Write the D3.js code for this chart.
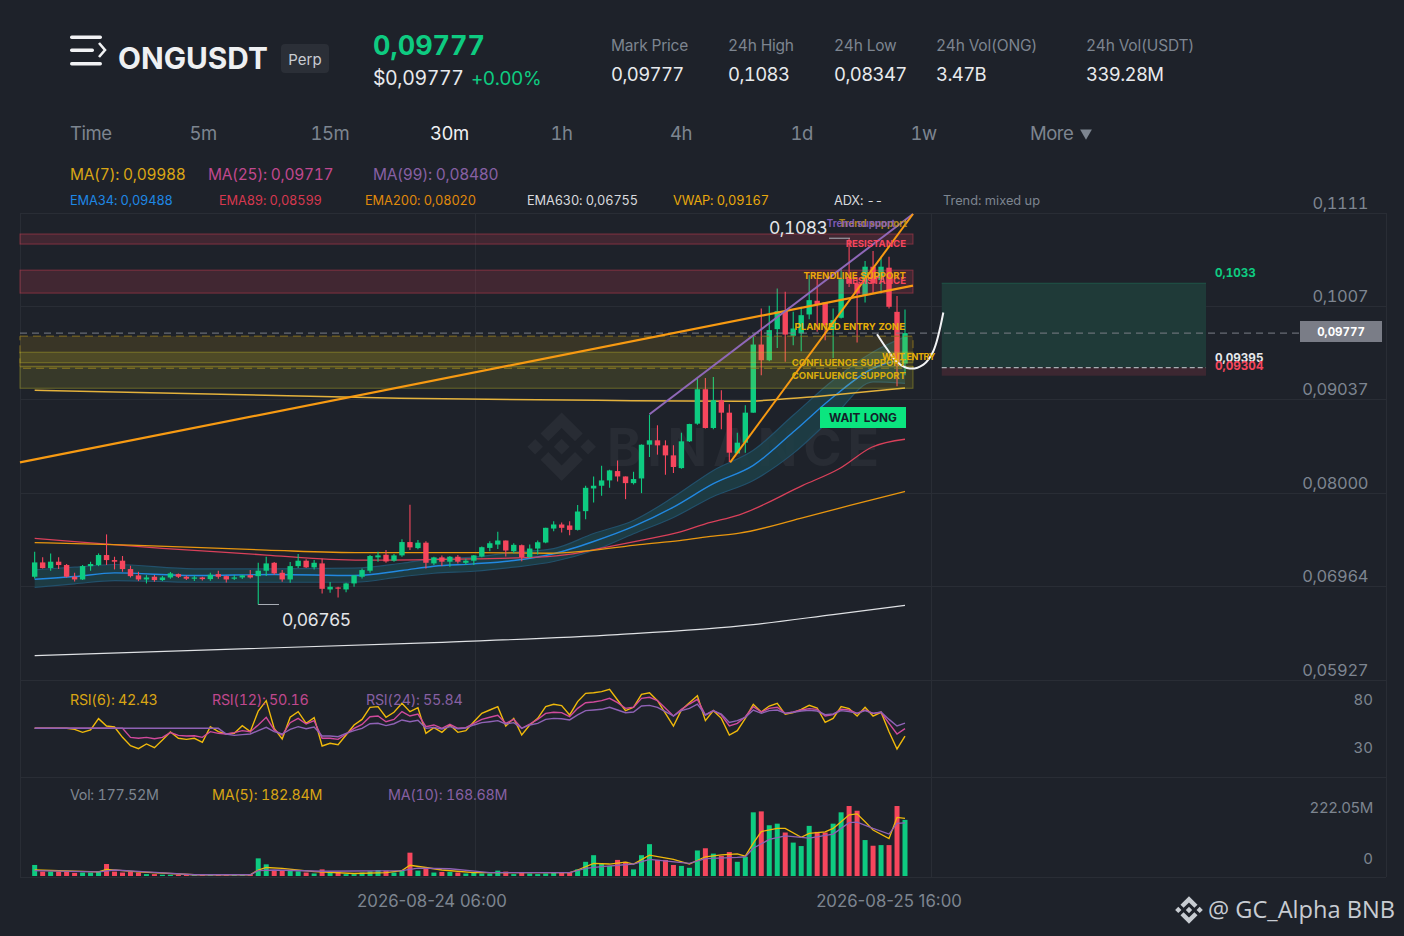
<!DOCTYPE html>
<html><head><meta charset="utf-8">
<script src="https://cdn.jsdelivr.net/npm/d3@7"></script>
<style>
html,body{margin:0;padding:0;background:#1e222a;overflow:hidden}
svg{display:block}
text{font-family:Inter,"Noto Sans",sans-serif;font-variant-numeric:tabular-nums;font-feature-settings:"tnum" 1}
</style></head><body>
<svg id="c" width="1404" height="936"></svg>
<script>
// Prices are in ticks of 0.00001
const opens=[7073,7232,7169,7240,7203,7073,7043,7191,7203,7314,
7258,7251,7158,7088,7043,7073,7036,7065,7102,7073,
7051,7065,7047,7102,7080,7051,7065,7091,7080,7140,
7228,7117,7043,7191,7251,7177,7221,6932,6954,6932,
6999,7073,7140,7288,7317,7251,7310,7458,7391,7451,
7221,7288,7240,7295,7228,7251,7297,7393,7430,7475,
7356,7423,7290,7386,7453,7608,7653,7642,7593,7801,
8053,8083,8142,8246,8186,8112,8164,8539,8587,8531,
8420,8279,8576,8772,9154,8724,9032,8894,8442,8561,
8894,9650,9476,9821,10021,9747,9773,9984,10136,10117,
9821,9947,10376,10328,10199,10514,10366,10503,10013,9439];
const closes=[7232,7169,7240,7203,7073,7043,7191,7214,7314,7258,
7240,7158,7080,7043,7065,7036,7065,7110,7073,7051,
7065,7047,7095,7073,7043,7065,7088,7065,7140,7221,
7110,7043,7191,7251,7177,7228,6939,6962,6947,6999,
7088,7147,7303,7310,7243,7310,7458,7399,7451,7228,
7288,7240,7295,7240,7251,7310,7401,7445,7475,7364,
7427,7290,7386,7456,7616,7653,7616,7593,7797,8060,
8083,8142,8253,8186,8112,8157,8538,8587,8531,8420,
8291,8576,8768,9154,8724,9032,8894,8450,8561,8894,
9650,9476,9810,10021,9761,9828,9976,10143,10099,9865,
9921,10376,10330,10217,10514,10328,10514,10069,9439,9777];
const highs=[7351,7288,7332,7288,7214,7117,7203,7240,7332,7543,
7295,7303,7195,7128,7091,7091,7080,7125,7110,7088,
7088,7073,7117,7140,7088,7091,7091,7147,7228,7295,
7236,7147,7236,7325,7266,7258,7273,7014,6962,7006,
7091,7165,7314,7351,7369,7325,7488,7873,7480,7466,
7295,7310,7303,7314,7273,7314,7408,7467,7571,7475,
7445,7430,7430,7475,7616,7690,7675,7690,7868,8083,
8186,8305,8260,8364,8186,8238,8542,8872,8754,8587,
8531,8672,8772,9272,9280,9291,9143,8987,8672,8976,
9735,10050,10080,10273,10236,10013,10069,10421,10384,10117,
10050,10495,10830,10384,10577,10688,10625,10625,10190,10039];
const lows=[7054,7165,7140,7158,7065,7021,7036,7140,7191,7203,
7154,7128,7065,7025,6999,7017,7025,7051,7058,7036,
7025,7032,7028,7051,7010,7036,7047,7054,6765,7080,
7095,7017,7006,7169,7169,7154,6888,6895,6843,6902,
6962,7054,7117,7240,7228,7240,7295,7369,7377,7165,
7203,7191,7184,7221,7203,7203,7290,7356,7382,7297,
7334,7245,7282,7319,7445,7579,7564,7534,7586,7712,
7897,7971,8060,8131,7934,8097,8001,8402,8428,8205,
8224,8272,8568,8761,8717,8709,8709,8346,8439,8450,
8894,9309,9465,9613,9458,9643,9576,9932,9791,9698,
9502,9939,10290,9673,10117,10217,10217,10051,9187,9309];
const volumes=[35,14,14,14,14,10,11,11,14,38,14,11,13,11,6,6,4,4,4,4,3,4,4,4,4,4,4,6,56,37,
17,17,17,15,11,8,21,13,13,6,6,11,15,19,17,11,19,74,17,23,11,13,13,11,8,11,
8,8,17,14,6,11,8,6,8,11,11,11,21,45,66,38,32,51,45,21,66,101,51,51,35,32,26,81,88,71,64,76,45,61,
202,205,161,166,138,106,95,159,140,138,166,202,222,207,114,96,98,98,222,178];
const rsi6=[50.5,50.5,50.5,50.5,50.5,49.4,46.3,48.8,60.6,52.9,51.9,41.1,32.4,29.3,34.2,30.3,38.3,46.7,40.1,39.0,40.1,35.9,52.2,47.0,44.6,45.3,53.3,47.0,68.5,79.3,50.5,39.4,62.0,67.9,55.7,61.6,32.1,34.9,33.5,43.5,54.0,59.8,72.4,73.1,62.0,67.2,76.5,67.9,72.0,45.3,51.2,46.3,54.0,46.3,48.1,57.4,
66.1,69.6,73.1,52.9,60.9,43.5,54.0,60.9,73.1,75.5,74.1,64.4,78.3,86.9,87.6,88.7,91.1,80.0,68.9,72.4,85.9,87.6,79.3,66.1,52.9,69.6,77.2,84.5,58.5,68.9,60.9,43.5,48.1,60.9,75.5,67.5,73.7,76.5,65.1,66.8,70.3,74.4,71.7,56.7,60.9,73.1,71.0,63.3,72.4,63.3,67.2,47.0,29.0,42.43];
const rsi12=[50.5,50.5,50.5,50.5,50.5,50.5,50.5,50.5,50.5,50.5,50.5,50.5,41.1,40.1,41.1,39.7,41.1,46.0,43.2,42.5,42.8,41.1,47.0,45.3,44.6,46.0,48.1,47.0,54.0,62.0,48.8,43.5,56.4,60.9,55.0,58.5,40.1,40.1,39.0,44.6,50.5,54.6,62.6,63.3,57.4,59.8,67.9,63.3,65.4,52.2,54.0,50.5,54.6,50.5,51.2,55.7,
59.8,62.0,64.0,55.7,59.8,50.5,55.0,59.8,66.1,67.2,66.8,62.6,71.3,77.2,77.9,79.3,81.7,77.2,71.3,72.4,81.7,82.8,79.3,71.3,63.3,70.3,75.8,80.7,64.4,68.9,64.4,52.9,55.7,62.6,73.1,67.5,71.3,72.4,66.1,67.5,69.6,71.0,70.3,63.3,64.7,70.3,69.6,66.1,69.6,66.1,67.2,55.7,44.6,50.16];
const rsi24=[50.5,50.5,50.5,50.5,50.5,50.5,50.5,50.5,50.5,50.5,50.5,50.5,50.5,50.5,50.5,50.5,50.5,50.5,50.5,50.5,50.5,50.5,50.5,50.5,44.6,43.2,43.9,44.6,48.1,51.5,47.0,44.6,49.4,52.2,50.1,51.9,42.5,42.5,41.8,45.3,48.1,50.5,55.3,55.7,53.3,55.3,59.2,57.4,58.8,50.5,51.5,49.8,52.2,50.1,50.8,54.0,
56.4,57.4,58.5,55.0,56.4,50.5,54.0,55.7,59.8,60.9,60.5,59.2,64.4,68.9,69.6,70.3,72.4,69.6,66.8,67.5,73.7,74.4,72.4,67.9,63.3,68.9,71.3,75.8,64.4,68.9,65.4,56.7,58.5,62.0,69.6,66.1,68.9,69.6,66.1,67.2,68.5,69.2,68.5,64.7,65.4,68.9,67.9,66.1,68.9,66.1,67.5,59.8,52.9,55.84];
const volMa5=[[0,19],[8,13],[9,21],[13,13],[20,4],[27,4],[28,19],[29,27],[31,24],[35,14],[40,8],[44,11],[46,17],[47,34],[49,27],[51,19],[55,11],[64,11],[67,11],[68,19],[70,40],[72,38],[74,44],[75,38],[77,66],[80,53],[82,38],[84,61],[86,67],[88,70],[89,63],[90,104],[91,141],[93,151],[94,151],[96,123],[97,135],[99,140],[100,151],[101,172],[102,194],[103,197],[104,172],[105,146],[107,119],[108,186],[109,182.84]];
const volMa10=[[0,17],[8,13],[10,19],[14,13],[20,4],[27,4],[28,17],[30,19],[36,15],[46,17],[48,25],[52,23],[57,11],[67,11],[69,24],[71,30],[75,38],[77,53],[82,40],[84,55],[88,59],[89,61],[90,88],[92,116],[94,127],[97,120],[100,133],[102,169],[103,171],[105,151],[107,133],[108,167],[109,168.68]];
const bandIdx=[0,5,10,20,30,40,46,50,55,60,65,70,75,80,85,90,95,100,105,109];
const ema34Upper=[7150,7179,7209,7161,7161,7168,7223,7272,7290,7345,7386,7553,7698,7957,8253,8476,8865,9254,9568,9735];
const ema34=[7045,7075,7116,7086,7098,7086,7142,7190,7216,7253,7328,7464,7631,7846,8106,8309,8679,9068,9387,9488];
const ema34Lower=[6956,6994,7031,7012,7012,7012,7075,7112,7134,7179,7242,7364,7550,7731,7964,8142,8442,8846,9235,9220];
const ema89=[[0,7499],[5,7462],[16,7388],[29,7314],[37,7266],[41,7258],[55,7272],[63,7290],[67.4,7327],[71.6,7401],[75.75,7475],[80.75,7567],[84,7660],[88.25,7760],[96.2,8087],[100.75,8272],[104.9,8513],[109,8599]];
const ema200=[[0,7451],[12,7425],[29,7369],[41,7340],[55,7340],[64.5,7334],[68.7,7356],[75.75,7430],[80.75,7475],[85,7523],[88.25,7556],[95.9,7720],[102.1,7864],[109,8020]];
const ema630=[[0,6197],[50,6342],[73,6431],[90,6542],[100,6653],[109,6755]];
const vwap=[[0,9143],[45.7,9054],[70.4,9031],[88.3,9020],[94.6,9050],[100.9,9098],[109,9167]];
const trendLong=[[-1.84,8342],[110,10304]];
const trendPurple=[[77,8876],[110,11099]];
const trendSteep=[[87.1,8342],[110,11099]];
const whiteCurve=[[105.5,9765],[106.7,9606],[108,9457],[109.6,9384],[111.3,9428],[112.5,9568],[113.8,10006]];
const zones=[[10877,10765,"r"],[10476,10221,"r"],[9743,9387,"p"],[9565,9448,"y"],[9409,9165,"y"]];
const priceTicks=[11110,10070,9037,8000,6964,5927];
const priceTickLabels=["0,1111","0,1007","0,09037","0,08000","0,06964","0,05927"];
const rsiTicks=[80,30];
const volTickLabels=["222.05M","0"];
const lastPrice=9777,entry=9395,stop=9304,target=10330,posStart=113.6,posEnd=146.7;
const stats=[["Mark Price","0,09777",611],["24h High","0,1083",728],["24h Low","0,08347",834],["24h Vol(ONG)","3.47B",936],["24h Vol(USDT)","339.28M",1086]];
const frames=[["Time",70],["5m",189.5],["15m",310.5],["30m",430],["1h",550.5],["4h",670],["1d",790.5],["1w",910.5],["More",1030]];
const logoPath="M38.73 53.2 63 28.94l24.28 24.28 14.12-14.12L63 .7 24.6 39.1zM.7 63l14.12-14.12L28.94 63 14.82 77.12zM38.73 72.8 63 97.06 87.28 72.78l14.13 14.11L63 125.3 24.6 86.9zM97.06 63l14.12-14.12L125.3 63l-14.12 14.12zM77.32 63 63 48.68 52.42 59.26l-1.22 1.21-2.5 2.5L63 77.32z";

const C={bg:"#1e222a",grid:"#292d35",g:"#0ecb81",r:"#f6465d",y:"#d9a514",pk:"#c0488e",pu:"#8760a3",mut:"#7d8590",txt:"#e3e5e8"};
const svg=d3.select("#c");
svg.append("rect").attr("width",1404).attr("height",936).attr("fill",C.bg);
const x=d3.scaleLinear().domain([0,109]).range([34.67,905]);
const y=d3.scaleLinear().domain([11110,5927]).range([213,680]);
const yRsi=d3.scaleLinear().domain([80,30]).range([700,748]);
const yVol=d3.scaleLinear().domain([0,222.05]).range([876,806]);

function T(s,px,py,size,fill,o={}){const t=svg.append("text").attr("x",px).attr("y",py).attr("dy","0.36em").attr("font-size",size).attr("fill",fill).text(s);
 if(o.w)t.attr("font-weight",o.w);if(o.a)t.attr("text-anchor",o.a);if(o.f)t.style("font-family",o.f);if(o.ls)t.attr("letter-spacing",o.ls);if(o.prop)t.style("font-variant-numeric","normal").style("font-feature-settings","normal");return t;}

// grid
const grid=svg.append("g").attr("stroke",C.grid).attr("stroke-width",1).attr("shape-rendering","crispEdges");
priceTicks.forEach(v=>grid.append("line").attr("x1",20).attr("x2",1386).attr("y1",y(v)).attr("y2",y(v)));
[777,877].forEach(v=>grid.append("line").attr("x1",20).attr("x2",1386).attr("y1",v).attr("y2",v));
[20,475,931,1386].forEach(v=>grid.append("line").attr("x1",v).attr("x2",v).attr("y1",213).attr("y2",877));

// watermark
svg.append("path").attr("d",logoPath).attr("fill","#282c34").attr("transform","translate(527,412) scale(.55)");
svg.append("text").attr("x",607).attr("y",466).attr("font-size",52).attr("font-weight",700).attr("fill","#282c34").attr("textLength",272).attr("lengthAdjust","spacing").text("BINANCE");

// EMA34 band
const idx=d3.range(bandIdx.length);
svg.append("path").attr("d",d3.area().x(i=>x(bandIdx[i])).y0(i=>y(ema34Lower[i])).y1(i=>y(ema34Upper[i])).curve(d3.curveMonotoneX)(idx)).attr("fill","#1d4048").attr("fill-opacity",.85);
[ema34Upper,ema34Lower].forEach(a=>svg.append("path").attr("d",d3.line().x(i=>x(bandIdx[i])).y(i=>y(a[i])).curve(d3.curveMonotoneX)(idx)).attr("fill","none").attr("stroke","#22506b").attr("stroke-width",1.2));
svg.append("path").attr("d",d3.line().x(i=>x(bandIdx[i])).y(i=>y(ema34[i])).curve(d3.curveMonotoneX)(idx)).attr("fill","none").attr("stroke","#2288e0").attr("stroke-width",1.4);
[[ema89,"#d9405a",1.3],[ema200,"#e8960f",1.3],[ema630,"#dfe1e4",1.2],[vwap,"#e4b23c",1.5]].forEach(([a,c,w])=>
 svg.append("path").attr("d",d3.line().x(d=>x(d[0])).y(d=>y(d[1])).curve(d3.curveMonotoneX)(a)).attr("fill","none").attr("stroke",c).attr("stroke-width",w));

// candles
const cg=svg.append("g");
d3.range(opens.length).forEach(i=>{
 const up=closes[i]>=opens[i],col=up?C.g:C.r,px=x(i);
 cg.append("line").attr("x1",px).attr("x2",px).attr("y1",y(highs[i])).attr("y2",y(lows[i])).attr("stroke",col).attr("stroke-width",1.1);
 const t=y(Math.max(opens[i],closes[i])),b=y(Math.min(opens[i],closes[i]));
 cg.append("rect").attr("x",px-2.7).attr("width",5.4).attr("y",t).attr("height",Math.max(b-t,1.2)).attr("fill",col);
});

// zones
zones.forEach(([a,b,k])=>{
 const col=k=="r"?"#f6465d":"#c9c02a",f=k=="r"?.16:.15;
 svg.append("rect").attr("x",x(-1.84)).attr("width",x(110)-x(-1.84)).attr("y",y(a)).attr("height",y(b)-y(a))
  .attr("fill",k=="p"?"#d9a514":col).attr("fill-opacity",f).attr("stroke",k=="p"?"#8e7620":col).attr("stroke-opacity",k=="p"?.9:.4).attr("stroke-dasharray",k=="p"?"8 5":null);
});

// position box
const pos=svg.append("g");
pos.append("rect").attr("x",x(posStart)).attr("width",x(posEnd)-x(posStart)).attr("y",y(target)).attr("height",y(entry)-y(target)).attr("fill","#1f3a38");
pos.append("line").attr("x1",x(posStart)).attr("x2",x(posEnd)).attr("y1",y(target)).attr("y2",y(target)).attr("stroke","#1f5548");
pos.append("rect").attr("x",x(posStart)).attr("width",x(posEnd)-x(posStart)).attr("y",y(entry)).attr("height",y(stop)-y(entry)).attr("fill","#3c2731");
pos.append("line").attr("x1",x(posStart)).attr("x2",x(posEnd)).attr("y1",y(entry)).attr("y2",y(entry)).attr("stroke","#a9aeb4").attr("stroke-dasharray","5 3").attr("stroke-width",1.2);
// last price
svg.append("line").attr("x1",20).attr("x2",1300).attr("y1",y(lastPrice)).attr("y2",y(lastPrice)).attr("stroke","#7b7f87").attr("stroke-dasharray","7 5").attr("stroke-width",1);

// trend lines
const ln=d3.line().x(d=>x(d[0])).y(d=>y(d[1]));
svg.append("path").attr("d",ln(trendLong)).attr("stroke","#f79a12").attr("stroke-width",2.2).attr("fill","none");
svg.append("path").attr("d",ln(trendPurple)).attr("stroke","#8f68b8").attr("stroke-width",2).attr("fill","none");
svg.append("path").attr("d",ln(trendSteep)).attr("stroke","#f79a12").attr("stroke-width",2).attr("fill","none");
svg.append("path").attr("d",d3.line().x(d=>x(d[0])).y(d=>y(d[1])).curve(d3.curveCatmullRom)(whiteCurve)).attr("stroke","#f2f3f5").attr("stroke-width",2).attr("fill","none");

// annotations
const lab={w:700,a:"end"};
T("Trend support",907,223,9.8,"#c79a1a",lab).attr("opacity",.85);
T("Trend support",895,223,9.8,"#8760c0",lab).attr("opacity",.9);
T("RESISTANCE",906,243.5,9.6,"#f6465d",lab);
T("RESISTANCE",906,280.5,9.6,"#f6465d",lab);
T("TRENDLINE SUPPORT",906,276,9.6,"#eda50c",lab);
T("PLANNED ENTRY ZONE",905,327,9.6,"#e7b008",lab);
T("CONFLUENCE SUPPORT",906,362.5,9.6,"#d9ad0c",lab);
T("CONFLUENCE SUPPORT",906,376,9.6,"#d9ad0c",lab);
T("WAIT ENTRY",935,357,9,"#e7b008",{w:700,a:"end",ls:-.4});
svg.append("rect").attr("x",820).attr("y",407).attr("width",86).attr("height",21).attr("fill","#0be57f");
T("WAIT LONG",863,417.5,11.8,"#14202a",{w:700,a:"middle"});
T("0,1083",769,228,17.5,C.txt,{ls:-.5});
svg.append("line").attr("x1",829).attr("x2",850).attr("y1",y(10830)).attr("y2",y(10830)).attr("stroke","#aab0b8");
T("0,06765",282,619.5,17.5,C.txt,{ls:-.6});
svg.append("line").attr("x1",x(28)).attr("x2",279).attr("y1",y(6765)).attr("y2",y(6765)).attr("stroke","#aab0b8");
T("0,1033",1215,273,11.7,C.g,{w:700});
T("0,09395",1215,357.5,11.7,"#e6e8ea",{w:700});
T("0,09304",1215,365.5,11.7,C.r,{w:700});
svg.append("rect").attr("x",1300).attr("y",321).attr("width",82).attr("height",21).attr("fill","#7a7d87");
T("0,09777",1341,331.5,11.5,"#fff",{w:700,a:"middle"});

// price axis
const axP=svg.append("g").attr("transform","translate(1368,0)").call(d3.axisLeft(y).tickValues(priceTicks).tickSize(0).tickPadding(0).tickFormat((d,i)=>priceTickLabels[i]));
axP.select(".domain").remove();
axP.selectAll("text").attr("font-size",16.5).attr("letter-spacing",-.4).attr("fill",C.mut).attr("dy","-0.3em").style("font-family","Inter,sans-serif");
const axR=svg.append("g").attr("transform","translate(1373,0)").call(d3.axisLeft(yRsi).tickValues(rsiTicks).tickSize(0).tickPadding(0));
axR.select(".domain").remove();
axR.selectAll("text").attr("font-size",15).attr("fill",C.mut).style("font-family","Inter,sans-serif");
T(volTickLabels[0],1373,808,15,C.mut,{a:"end",ls:-.4});
T(volTickLabels[1],1373,859,15,C.mut,{a:"end"});
T("2026-08-24 06:00",432,901,16.8,C.mut,{a:"middle",prop:1});
T("2026-08-25 16:00",889,901,16.8,C.mut,{a:"middle",prop:1});

// RSI
[[rsi6,"#f0b90b"],[rsi12,"#d14a9c"],[rsi24,"#8f62b5"]].forEach(([a,c])=>
 svg.append("path").attr("d",d3.line().x((d,i)=>x(i)).y(d=>yRsi(d))(a)).attr("fill","none").attr("stroke",c).attr("stroke-width",1.4));

// Volume
d3.range(volumes.length).forEach(i=>{
 svg.append("rect").attr("x",x(i)-2.5).attr("width",5).attr("y",yVol(volumes[i])).attr("height",876-yVol(volumes[i])).attr("fill",closes[i]>=opens[i]?C.g:C.r);
});
[[volMa5,"#f0b90b"],[volMa10,"#8f62b5"]].forEach(([a,c])=>
 svg.append("path").attr("d",d3.line().x(d=>x(d[0])).y(d=>yVol(d[1]))(a)).attr("fill","none").attr("stroke",c).attr("stroke-width",1.3));

// header
const ic=svg.append("g").attr("fill","#f1f2f4");
ic.append("rect").attr("x",70).attr("y",35.5).attr("width",32).attr("height",3.4).attr("rx",1.7);
ic.append("rect").attr("x",70).attr("y",48.5).attr("width",24).attr("height",3.4).attr("rx",1.7);
ic.append("rect").attr("x",70).attr("y",62).attr("width",32).attr("height",3.4).attr("rx",1.7);
svg.append("path").attr("d","M99 43 L105 50 L99 57").attr("fill","none").attr("stroke","#f1f2f4").attr("stroke-width",2.6);
T("ONGUSDT",118,58.5,29.8,"#eef0f2",{w:700});
svg.append("rect").attr("x",281).attr("y",44).attr("width",48).attr("height",29).attr("rx",4).attr("fill","#2b2f37");
T("Perp",305,60,15,"#c8ccd2",{a:"middle"});
T("0,09777",373,45,27,C.g,{w:700});
T("$0,09777",373,78,19.5,"#e8eaed",{ls:-.4});
T("+0.00%",471,78,19,C.g,{ls:-.5});
stats.forEach(([a,b,px])=>{T(a,px,45,15.5,C.mut,{ls:-.2});T(b,px,74,18.5,"#e8eaed",{ls:-.6});});
frames.forEach(([s,px])=>T(s,px,133,18.5,s=="30m"?"#f0f1f3":C.mut,{ls:-.5}));
svg.append("path").attr("d",d3.symbol().type(d3.symbolTriangle).size(60)()).attr("transform","translate(1086,133) rotate(180)").attr("fill",C.mut);
const rowMa={ls:-.3},rowEma={ls:-.15},rowSub={ls:-.28};
T("MA(7): 0,09988",70,174.5,15.5,C.y,rowMa);
T("MA(25): 0,09717",208,174.5,15.5,C.pk,rowMa);
T("MA(99): 0,08480",373,174.5,15.5,C.pu,rowMa);
T("EMA34: 0,09488",70,200,12.8,"#1e88e5",rowEma);
T("EMA89: 0,08599",219,200,12.8,"#d6384f",rowEma);
T("EMA200: 0,08020",365,200,12.8,"#e08a0b",rowEma);
T("EMA630: 0,06755",527,200,12.8,"#d8dade",rowEma);
T("VWAP: 0,09167",673,200,12.8,"#e8a90c",rowEma);
T("ADX: --",834,200,12.8,"#d8dade",rowEma);
T("Trend: mixed up",943,200,12.8,C.mut);
T("RSI(6): 42.43",70,699.5,14.3,C.y,rowSub);
T("RSI(12): 50.16",212,699.5,14.3,C.pk,rowSub);
T("RSI(24): 55.84",366,699.5,14.3,C.pu,rowSub);
T("Vol: 177.52M",70,794.5,14.3,C.mut,rowSub);
T("MA(5): 182.84M",212,794.5,14.3,C.y,rowSub);
T("MA(10): 168.68M",388,794.5,14.3,C.pu,rowSub);

// footer credit
svg.append("path").attr("d",logoPath).attr("fill","#c8ccd2").attr("transform","translate(1175,896) scale(.222)");
T("@ GC_Alpha BNB",1208,910,23.6,"#c8ccd2",{f:'"Open Sans","Noto Sans",sans-serif'});
</script></body></html>
